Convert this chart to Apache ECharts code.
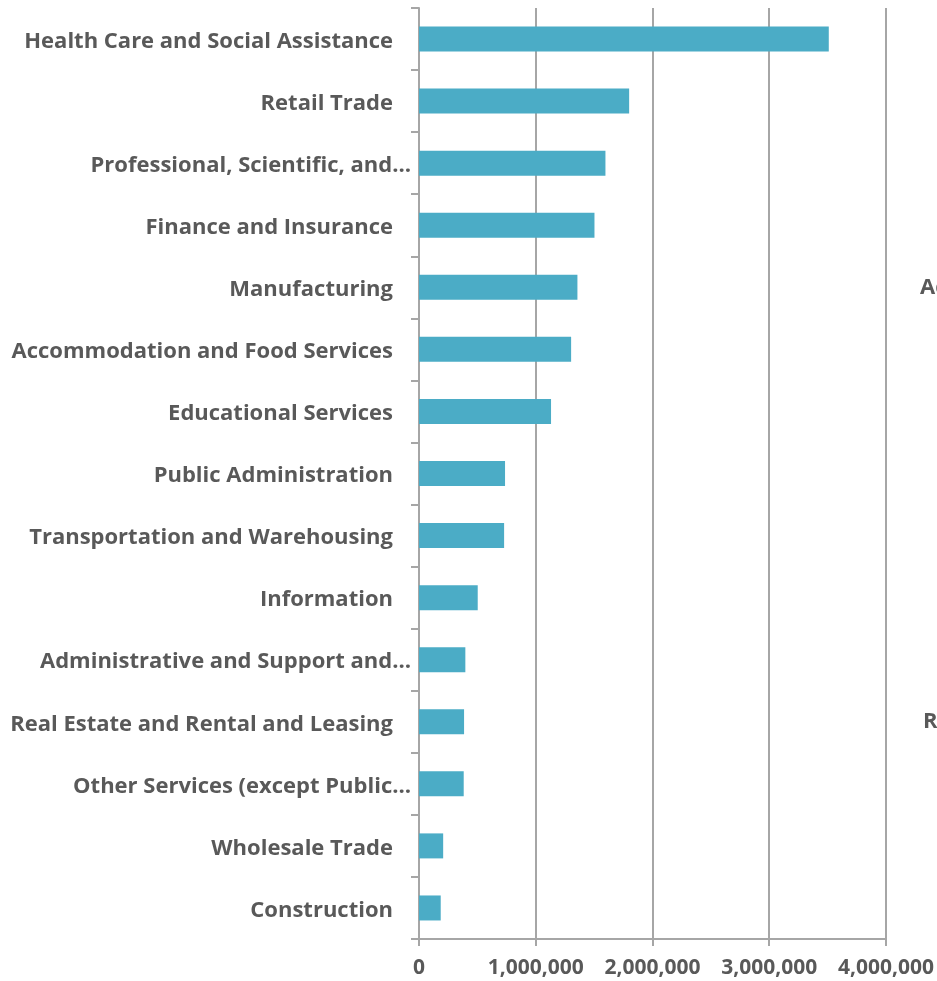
<!DOCTYPE html>
<html>
<head>
<meta charset="utf-8">
<script src="https://cdn.jsdelivr.net/npm/echarts@6/dist/echarts.min.js"></script>
<style>
html,body{margin:0;padding:0;background:#fff;}
#c{width:937px;height:981px;}
</style>
</head>
<body>
<div id="c"></div>
<script>
const categories = [
  "Health Care and Social Assistance",
  "Retail Trade",
  "Professional, Scientific, and Technical Services",
  "Finance and Insurance",
  "Manufacturing",
  "Accommodation and Food Services",
  "Educational Services",
  "Public Administration",
  "Transportation and Warehousing",
  "Information",
  "Administrative and Support and Waste Management and Remediation Services",
  "Real Estate and Rental and Leasing",
  "Other Services (except Public Administration)",
  "Wholesale Trade",
  "Construction"
];
const values = [3510000, 1800000, 1597000, 1503000, 1357000, 1303000, 1131000, 737000, 729000, 503000, 397000, 386000, 383000, 207000, 186000];
const xTicks = [0, 1000000, 2000000, 3000000, 4000000];
const clippedLabels = ["Ac", "Re"];

const FONT = '"Open Sans"';
const FS = 22;
const TXT = '#595959';
const AX = '#A6A6A6';

const cv = document.createElement('canvas').getContext('2d');
cv.font = 'bold ' + FS + 'px ' + FONT;
const LIMIT = 400;
function fmtLabel(t) {
  if (cv.measureText(t).width <= LIMIT) return '{n|' + t + '}';
  const words = t.split(' ');
  let best = words[0];
  for (let i = 1; i <= words.length; i++) {
    const p = words.slice(0, i).join(' ');
    if (cv.measureText(p + '\u2026').width <= LIMIT) best = p; else break;
  }
  return '{t|' + best + '\u2026}';
}

const chart = echarts.init(document.getElementById('c'));
chart.setOption({
  animation: false,
  backgroundColor: '#fff',
  grid: {left: 419, right: 50, top: 8, bottom: 42, containLabel: false},
  xAxis: {
    type: 'value', min: xTicks[0], max: xTicks[xTicks.length - 1], interval: 1000000,
    axisLine: {show: true, lineStyle: {color: AX, width: 2}},
    axisTick: {show: true, length: 7, lineStyle: {color: AX, width: 2}},
    splitLine: {show: true, lineStyle: {color: AX, width: 2}},
    axisLabel: {
      margin: 19, color: TXT, fontFamily: FONT, fontWeight: 'bold', fontSize: 21,
      formatter: v => v.toLocaleString('en-US')
    }
  },
  yAxis: {
    type: 'category', inverse: true, data: categories,
    axisLine: {show: true, lineStyle: {color: AX, width: 2}},
    axisTick: {show: true, length: 8, lineStyle: {color: AX, width: 2}},
    splitLine: {show: false},
    axisLabel: {
      margin: 8, color: TXT, fontFamily: FONT, fontWeight: 'bold', fontSize: FS,
      formatter: fmtLabel,
      rich: {
        n: {color: TXT, fontFamily: FONT, fontWeight: 'bold', fontSize: FS, padding: [5, 18, 0, 0]},
        t: {color: TXT, fontFamily: FONT, fontWeight: 'bold', fontSize: FS, padding: [5, 0, 0, 0]}
      }
    }
  },
  series: [{
    type: 'bar', data: values, barWidth: 25,
    itemStyle: {color: '#4BACC6'}
  }],
  graphic: [
    {type: 'text', left: 920, top: 277, style: {text: clippedLabels[0], fill: TXT, font: 'bold ' + FS + 'px ' + FONT}},
    {type: 'text', left: 923, top: 711, style: {text: clippedLabels[1], fill: TXT, font: 'bold ' + FS + 'px ' + FONT}}
  ]
});
</script>
</body>
</html>
